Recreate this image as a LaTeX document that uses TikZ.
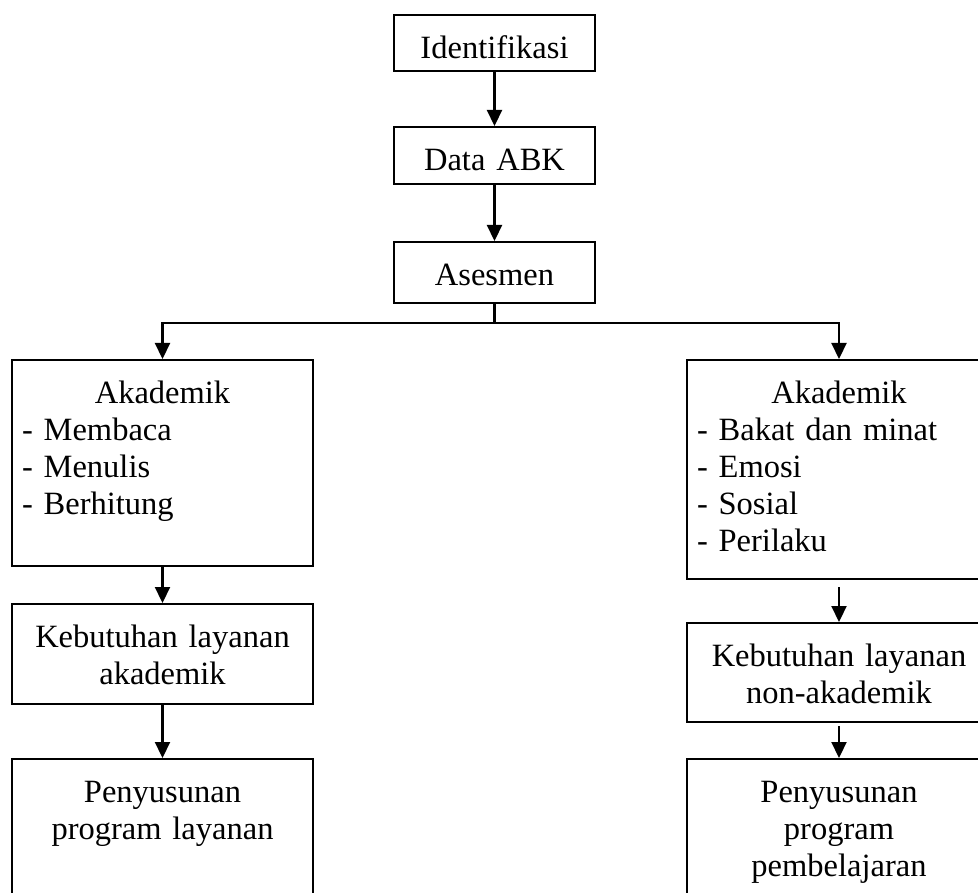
\documentclass[tikz,border=0pt]{standalone}
\usepackage{fontspec}
\setmainfont{Liberation Serif}
\usetikzlibrary{arrows.meta,positioning}

\begin{document}
\begin{tikzpicture}[x=1pt,y=-1pt,
    box/.style={draw, line width=2.2pt, inner xsep=10pt, inner ysep=0pt, text height=43pt, align=center, anchor=north},
    arr/.style={-{Triangle[length=16pt,width=15pt]}, line width=2.2pt},
    font=\fontsize{32.5}{37}\selectfont]
    \clip (0,0) rectangle (978,893);
    % main line
    \node[box, text width=181pt, text depth=13pt] (ident) at (494.5,14) {Identifikasi};
    \node[box, text width=181pt, text depth=14pt] (data) at (494.5,126) {Data ABK};
    \node[box, text width=181pt, text depth=18pt] (ases) at (494.5,241) {Asesmen};
    \draw[arr] (ident) -- (data);
    \draw[arr] (data) -- (ases);

    % left branch
    \node[box, text width=281pt, text depth=163pt, align=left] (akL) at (162.5,359)
        {\makebox[\linewidth]{Akademik}\\- Membaca\\- Menulis\\- Berhitung};
    \node[box, text width=281pt, text depth=57pt] (kebL) at (162.5,603) {Kebutuhan layanan\\akademik};
    \node[box, text width=281pt, text depth=140pt] (penL) at (162.5,758) {Penyusunan\\program layanan};

    % right branch
    \node[box, text width=284pt, text depth=176pt, align=left] (akR) at (839,359)
        {\makebox[\linewidth]{Akademik}\\- Bakat dan minat\\- Emosi\\- Sosial\\- Perilaku};
    \node[box, text width=284pt, text depth=56pt] (kebR) at (839,622) {Kebutuhan layanan\\non-akademik};
    \node[box, text width=284pt, text depth=140pt] (penR) at (839,758) {Penyusunan\\program\\pembelajaran};

    \draw[arr] (ases.south) -- ++(0,19) -| (akL.north);
    \draw[arr] (ases.south) -- ++(0,19) -| (akR.north);
    \draw[arr] (akL) -- (kebL);
    \draw[arr] (kebL) -- (penL);
    \draw[arr, shorten <=7pt] (akR) -- (kebR);
    \draw[arr, shorten <=3pt] (kebR) -- (penR);
\end{tikzpicture}
\end{document}
